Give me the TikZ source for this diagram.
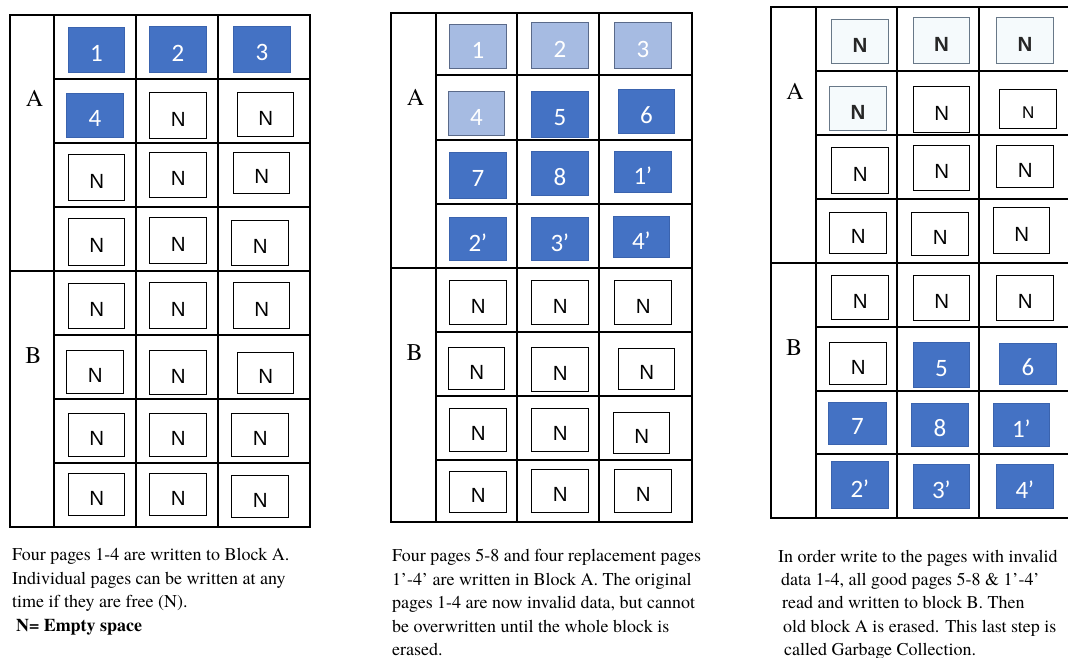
\documentclass[tikz,border=0pt]{standalone}
\usepackage{fontspec}
\newfontfamily\serf{texgyretermes}[Extension=.otf, UprightFont=*-regular, BoldFont=*-bold, ItalicFont=*-italic, BoldItalicFont=*-bolditalic]
\newfontfamily\arialf{Liberation Sans}
\newfontfamily\calf{Carlito}
\definecolor{myblue}{HTML}{4472C4}
\definecolor{mybluedark}{HTML}{3A63AE}
\definecolor{mylight}{HTML}{A6BBE2}
\definecolor{mylightdark}{HTML}{5A6A8A}
\definecolor{mypale}{HTML}{F5FAFC}
\definecolor{mygray}{HTML}{687888}
\tikzset{
  gridline/.style={line width=1.5pt, draw=black},
  emp/.style={draw=black, line width=1.4pt, fill=white, inner sep=0pt},
  blu/.style={draw=mybluedark, line width=0.8pt, fill=myblue, inner sep=0pt},
  lig/.style={draw=mylightdark, line width=1.1pt, fill=mylight, inner sep=0pt},
  gry/.style={draw=mygray, line width=1.2pt, fill=mypale, inner sep=0pt},
  emptxt/.style={font=\arialf\fontsize{20.5}{22}\selectfont, text=black, inner sep=0pt},
  blutxt/.style={font=\calf\fontsize{25}{26}\selectfont, text=white, inner sep=0pt},
  ligtxt/.style={font=\calf\fontsize{25}{26}\selectfont, text=white, inner sep=0pt},
  grytxt/.style={font=\arialf\bfseries\fontsize{20.5}{22}\selectfont, text=black!85, inner sep=0pt},
  blocklabel/.style={font=\serf\fontsize{24}{26}\selectfont, anchor=base, inner sep=0pt},
  captxt/.style={font=\serf\fontsize{18}{22}\selectfont, anchor=base west, inner sep=0pt},
}
\newcommand\pr{\kern-0.5pt’}
% name, left, top, right, bottom, style, text
\newcommand\pg[7]{%
  \node[#6, anchor=north west, minimum width={(#4-#2)*1pt}, minimum height={(#5-#3)*1pt}] (#1) at (#2,#3) {};
  \node[#6txt] (#1t) at ([yshift=-3.5pt]#1.center) {#7};
}
\begin{document}
\begin{tikzpicture}[x=1pt,y=-1pt]
\useasboundingbox (0,0) rectangle (1068,658);
\fill[white] (0,0) rectangle (1068,658);

% ---------------- Panel 1 grid ----------------
\draw[gridline] (10,15) rectangle (310,527);
\draw[gridline] (54,15) -- (54,527) (136,15) -- (136,527) (218,15) -- (218,527);
\draw[gridline] (54,79) -- (310,79) (54,143) -- (310,143) (54,207) -- (310,207)
  (10,271) -- (310,271) (54,335) -- (310,335) (54,399) -- (310,399) (54,463) -- (310,463);
\node[blocklabel] (p1A) at (34.5,107) {A};
\node[blocklabel] (p1B) at (33.5,363) {B};

\pg{a11}{68}{27}{124}{72}{blu}{1}
\pg{a12}{149}{26}{206}{72}{blu}{2}
\pg{a13}{233}{26}{290}{72}{blu}{3}
\pg{a21}{66}{93}{123}{137}{blu}{4}
\pg{a22}{149}{92}{206}{138}{emp}{N}
\pg{a23}{237}{92}{293}{136}{emp}{N}
\pg{a31}{68}{154}{124}{200}{emp}{N}
\pg{a32}{149}{152}{206}{197}{emp}{N}
\pg{a33}{233}{152}{289}{193}{emp}{N}
\pg{a41}{68}{218}{124}{265}{emp}{N}
\pg{a42}{149}{217}{206}{263}{emp}{N}
\pg{a43}{231}{220}{288}{265}{emp}{N}
\pg{a51}{68}{283}{124}{328}{emp}{N}
\pg{a52}{149}{282}{206}{328}{emp}{N}
\pg{a53}{233}{282}{289}{328}{emp}{N}
\pg{a61}{66}{350}{123}{393}{emp}{N}
\pg{a62}{149}{350}{206}{394}{emp}{N}
\pg{a63}{237}{352}{293}{393}{emp}{N}
\pg{a71}{68}{413}{124}{456}{emp}{N}
\pg{a72}{149}{413}{206}{456}{emp}{N}
\pg{a73}{231}{413}{288}{456}{emp}{N}
\pg{a81}{68}{473}{124}{515}{emp}{N}
\pg{a82}{149}{473}{206}{515}{emp}{N}
\pg{a83}{231}{475}{288}{517}{emp}{N}

% ---------------- Panel 2 grid ----------------
\draw[gridline] (391,13) rectangle (692,522);
\draw[gridline] (436,13) -- (436,522) (517,13) -- (517,522) (599,13) -- (599,522);
\draw[gridline] (436,75) -- (692,75) (436,140) -- (692,140) (436,204) -- (692,204)
  (391,268) -- (692,268) (436,332) -- (692,332) (436,396) -- (692,396) (436,460) -- (692,460);
\node[blocklabel] (p2A) at (415.5,106) {A};
\node[blocklabel] (p2B) at (414.5,360) {B};

\pg{b11}{449}{24}{506}{68}{lig}{1}
\pg{b12}{531}{22}{588}{68}{lig}{2}
\pg{b13}{614}{22}{671}{68}{lig}{3}
\pg{b21}{448}{91}{504}{135}{lig}{4}
\pg{b22}{531}{91}{588}{137}{blu}{5}
\pg{b23}{618}{89}{674}{133}{blu}{6}
\pg{b31}{449}{152}{506}{198}{blu}{7}
\pg{b32}{531}{151}{588}{195}{blu}{8}
\pg{b33}{614}{151}{671}{192}{blu}{1\pr}
\pg{b41}{449}{217}{506}{260}{blu}{2\pr}
\pg{b42}{531}{217}{588}{260}{blu}{3\pr}
\pg{b43}{613}{216}{669}{257}{blu}{4\pr}
\pg{b51}{449}{280}{506}{324}{emp}{N}
\pg{b52}{531}{280}{588}{324}{emp}{N}
\pg{b53}{614}{280}{671}{324}{emp}{N}
\pg{b61}{448}{347}{504}{389}{emp}{N}
\pg{b62}{531}{347}{588}{391}{emp}{N}
\pg{b63}{618}{348}{674}{389}{emp}{N}
\pg{b71}{449}{408}{506}{451}{emp}{N}
\pg{b72}{531}{408}{588}{451}{emp}{N}
\pg{b73}{613}{412}{669}{453}{emp}{N}
\pg{b81}{449}{471}{506}{512}{emp}{N}
\pg{b82}{531}{469}{588}{512}{emp}{N}
\pg{b83}{614}{469}{671}{512}{emp}{N}

% ---------------- Panel 3 grid ----------------
\draw[gridline] (1068,7) -- (771,7) -- (771,518) -- (1068,518);
\draw[gridline] (816,7) -- (816,518) (897,7) -- (897,518) (979,7) -- (979,518);
\draw[gridline] (816,71) -- (1068,71) (816,135) -- (1068,135) (816,199) -- (1068,199)
  (771,263) -- (1068,263) (816,327) -- (1068,327) (816,391) -- (1068,391) (816,454) -- (1068,454);
\node[blocklabel] (p3A) at (795,100) {A};
\node[blocklabel] (p3B) at (794,355) {B};

\pg{c11}{831}{19}{888}{63}{gry}{N}
\pg{c12}{913}{17}{969}{63}{gry}{N}
\pg{c13}{996}{17}{1053}{63}{gry}{N}
\pg{c21}{829}{86}{886}{130}{gry}{N}
\pg{c22}{913}{86}{969}{132}{emp}{N}
\pg{c23}{999}{89}{1056}{128}{emp}{\fontsize{17}{18}\selectfont N}
\pg{c31}{831}{147}{888}{193}{emp}{N}
\pg{c32}{913}{145}{969}{190}{emp}{N}
\pg{c33}{996}{145}{1053}{187}{emp}{N}
\pg{c41}{829}{212}{886}{253}{emp}{N}
\pg{c42}{911}{212}{968}{255}{emp}{N}
\pg{c43}{993}{207}{1049}{253}{emp}{N}
\pg{c51}{831}{275}{888}{319}{emp}{N}
\pg{c52}{913}{275}{969}{320}{emp}{N}
\pg{c53}{996}{275}{1053}{320}{emp}{N}
\pg{c61}{829}{342}{886}{384}{emp}{N}
\pg{c62}{913}{342}{969}{387}{blu}{5}
\pg{c63}{999}{343}{1056}{384}{blu}{6}
\pg{c71}{828}{402}{886}{444}{blu}{7}
\pg{c72}{911}{403}{968}{446}{blu}{8}
\pg{c73}{993}{403}{1049}{446}{blu}{1\pr}
\pg{c81}{831}{461}{888}{508}{blu}{2\pr}
\pg{c82}{913}{464}{969}{508}{blu}{3\pr}
\pg{c83}{996}{464}{1053}{508}{blu}{4\pr}

% ---------------- Captions ----------------
\node[captxt] (t1a) at (12,560) {Four pages 1-4 are written to Block A.};
\node[captxt] (t1b) at (12,584) {Individual pages can be written at any};
\node[captxt] (t1c) at (12,607) {time if they are free (N).};
\node[captxt, font=\serf\bfseries\fontsize{18}{22}\selectfont] (t1d) at (16,631) {N= Empty space};

\node[captxt] (t2a) at (392,561) {Four pages 5-8 and four replacement pages};
\node[captxt] (t2b) at (392,585) {1’-4’ are written in Block A. The original};
\node[captxt] (t2c) at (392,608) {pages 1-4 are now invalid data, but cannot};
\node[captxt] (t2d) at (392,632) {be overwritten until the whole block is};
\node[captxt] (t2e) at (392,655) {erased.};

\node[captxt] (t3a) at (778,562) {In order write to the pages with invalid};
\node[captxt] (t3b) at (781,585) {data 1-4, all good pages 5-8 \& 1’-4’};
\node[captxt] (t3c) at (782,608) {read and written to block B. Then};
\node[captxt] (t3d) at (783,632) {old block A is erased. This last step is};
\node[captxt] (t3e) at (784,655) {called Garbage Collection.};
\end{tikzpicture}
\end{document}
